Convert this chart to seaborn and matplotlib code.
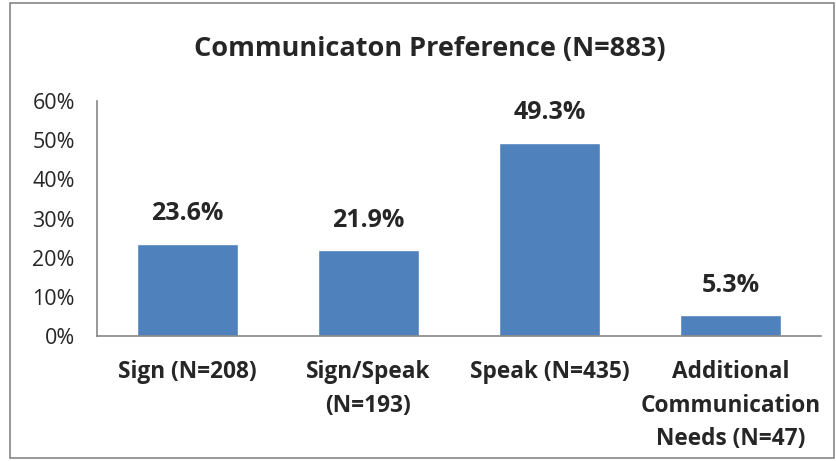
import numpy as np
import pandas as pd
import matplotlib
matplotlib.use("Agg")
import matplotlib.pyplot as plt
import seaborn as sns
from matplotlib.patches import Rectangle

categories = ["Sign (N=208)", "Sign/Speak\n(N=193)", "Speak (N=435)",
              "Additional\nCommunication\nNeeds (N=47)"]
values = [23.6, 21.9, 49.3, 5.3]
yticks = [0, 10, 20, 30, 40, 50, 60]

sns.set_style("white")
plt.rcParams['font.family'] = ['Open Sans', 'DejaVu Sans']

df = pd.DataFrame({"category": categories, "pct": values})

fig = plt.figure(figsize=(8.37, 4.61), dpi=100)
ax = fig.add_axes([97/837, 1 - 336/461, (821-97)/837, (336-101)/461])

sns.barplot(data=df, x="category", y="pct", color="#4F81BD", width=0.56,
            saturation=1, ax=ax)

for p, v in zip(ax.patches, values):
    ax.text(p.get_x() + p.get_width()/2, v + 4.5, f"{v:.1f}%", ha="center",
            va="bottom", fontsize=18, fontweight="bold")

ax.set_ylim(0, 60)
ax.set_yticks(yticks)
ax.set_yticklabels([f"{t}%" for t in yticks], fontsize=15.5)
ax.set_xticks(range(len(categories)))
ax.set_xticklabels(categories, fontsize=16.3, fontweight="bold", linespacing=1.55)
ax.tick_params(axis="x", length=0, pad=17)
ax.tick_params(axis="y", length=0, pad=16)
ax.set_xlabel("")
ax.set_ylabel("")
for s in ["top", "right"]:
    ax.spines[s].set_visible(False)
for s in ["left", "bottom"]:
    ax.spines[s].set_color("#868686")
    ax.spines[s].set_linewidth(1.2)

fig.text(430/837, 1 - 49/461, "Communicaton Preference (N=883)", ha="center",
         va="center", fontsize=19.5, fontweight="bold")

fig.patches.append(Rectangle((10/837, 3/461), 824/837, 455/461, transform=fig.transFigure,
                             fill=False, edgecolor="#868686", linewidth=1.2))

fig.savefig("out.png", dpi=100)
